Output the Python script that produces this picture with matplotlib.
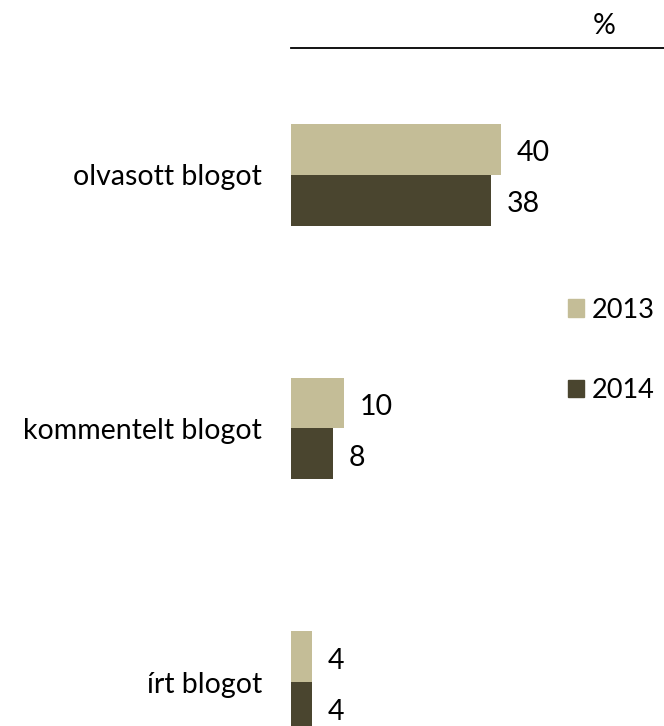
import numpy as np
import matplotlib.pyplot as plt
from matplotlib.patches import Patch

plt.rcParams['font.family'] = ['Lato', 'DejaVu Sans']

# --- data ---
categories = ['olvasott blogot', 'kommentelt blogot', 'írt blogot']
years = ['2013', '2014']
values_2013 = [40, 10, 4]
values_2014 = [38, 8, 4]
colors = ['#C4BD97', '#4A452F']

FS = 20.5

fig = plt.figure(figsize=(6.64, 7.26), dpi=100)
# axes runs below the figure edge, like the cropped original
ax = fig.add_axes([291 / 664, -0.1143, 373 / 664, 1.0482])

y = np.arange(len(categories))
h = 0.2
ax.barh(y - h / 2, values_2013, height=h, color=colors[0])
ax.barh(y + h / 2, values_2014, height=h, color=colors[1])

for yy, v13, v14 in zip(y, values_2013, values_2014):
    ax.annotate(str(v13), (v13, yy - h / 2), xytext=(16, -4), textcoords='offset pixels',
                va='center', ha='left', fontsize=FS)
    ax.annotate(str(v14), (v14, yy + h / 2), xytext=(16, -4), textcoords='offset pixels',
                va='center', ha='left', fontsize=FS)

ax.set_xlim(0, 71)
ax.set_ylim(2.5, -0.5)
ax.set_yticks(y)
ax.set_yticklabels(categories, fontsize=FS)
ax.tick_params(axis='y', length=0, pad=21)
ax.set_xticks([])
for s in ['left', 'right', 'bottom']:
    ax.spines[s].set_visible(False)
ax.spines['top'].set_linewidth(1.3)

fig.text(604 / 664, 1 - 26 / 726, '%', ha='center', va='center', fontsize=FS)

handles = [Patch(color=c) for c in colors]
fig.legend(handles, years, loc='upper left', bbox_to_anchor=(554 / 664, 1 - 284 / 726),
           frameon=False, fontsize=19.5, handlelength=0.6, handleheight=0.6,
           handletextpad=0.3, labelspacing=2.05, borderpad=0)

fig.savefig('out.png', dpi=100)
